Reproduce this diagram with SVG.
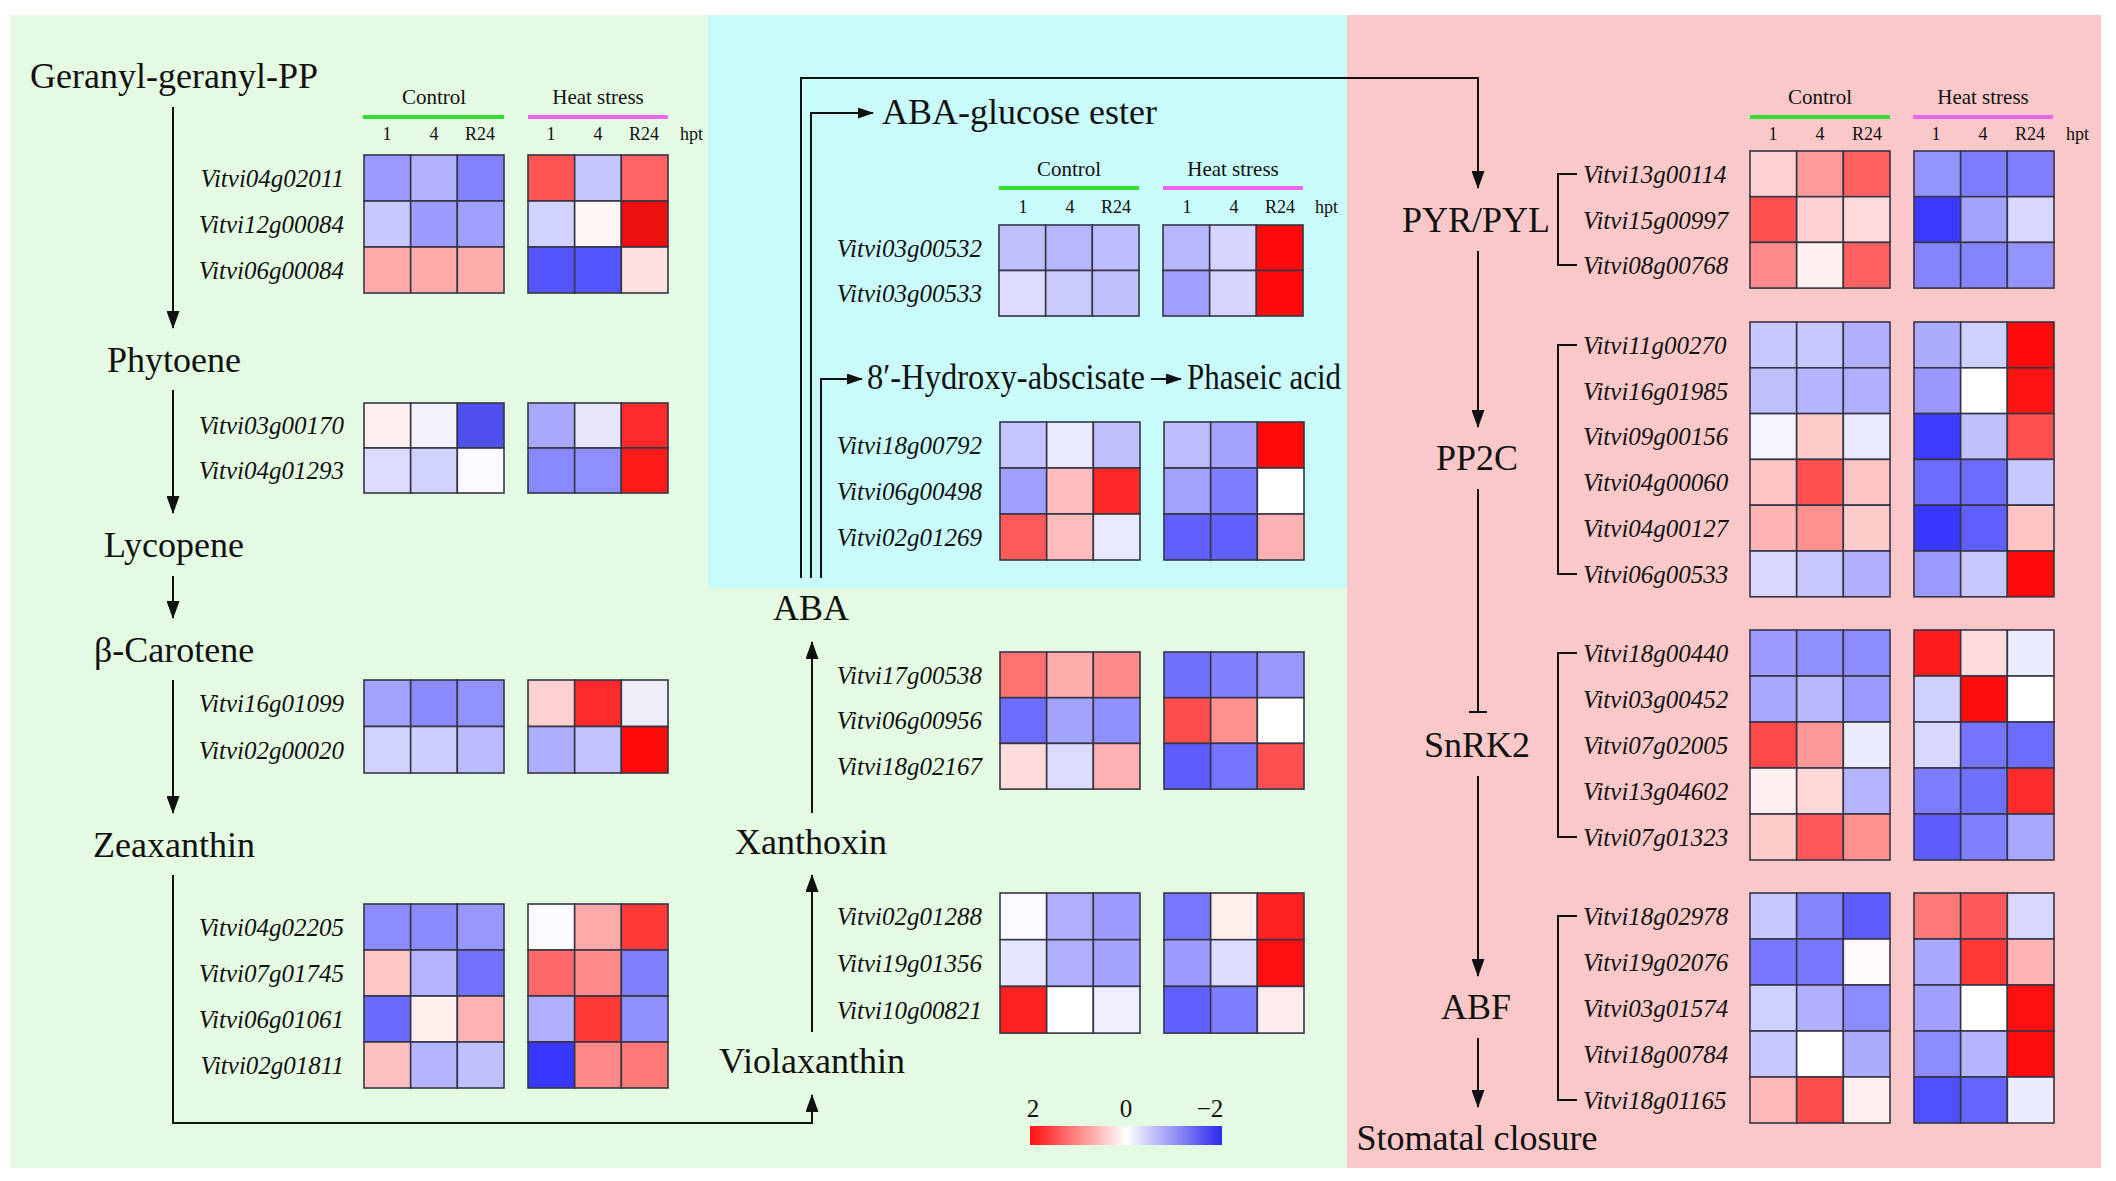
<svg xmlns="http://www.w3.org/2000/svg" width="2116" height="1181" viewBox="0 0 2116 1181">
<style>
.t{font-family:"Liberation Serif",serif;font-size:36px;fill:#111}
.g{font-family:"Liberation Serif",serif;font-style:italic;font-size:25px;fill:#111}
.h{font-family:"Liberation Serif",serif;font-size:21px;fill:#111}
.s{font-family:"Liberation Serif",serif;font-size:18px;fill:#111}
.hm rect{stroke:#353545;stroke-width:1.6}
.ln{stroke:#111;stroke-width:2;fill:none}
.gl{stroke:#33dd33;stroke-width:4}
.pl{stroke:#ee66ee;stroke-width:4}
</style>
<defs>
<marker id="ah" viewBox="0 0 18 13" markerUnits="userSpaceOnUse" markerWidth="18" markerHeight="13" refX="17" refY="6.5" orient="auto">
<path d="M0,0 L18,6.5 L0,13 z" fill="#111"/>
</marker>
<marker id="as" viewBox="0 0 16 11" markerUnits="userSpaceOnUse" markerWidth="16" markerHeight="11" refX="15" refY="5.5" orient="auto">
<path d="M0,0 L16,5.5 L0,11 z" fill="#111"/>
</marker>
<linearGradient id="cb" x1="0" y1="0" x2="1" y2="0">
<stop offset="0" stop-color="#ff1010"/>
<stop offset="0.5" stop-color="#ffffff"/>
<stop offset="1" stop-color="#2a2aee"/>
</linearGradient>
</defs>
<rect x="0" y="0" width="2116" height="1181" fill="#ffffff"/>
<g id="panels">
<rect x="10" y="15" width="2091" height="1153" fill="#e4fae2"/>
<rect x="708" y="15" width="639" height="573" fill="#c9fbfb"/>
<rect x="1347" y="15" width="754" height="1153" fill="#fac8c8"/>
</g>

<g id="connectors">
<line class="ln" x1="173" y1="107" x2="173" y2="328" marker-end="url(#ah)"/>
<line class="ln" x1="173" y1="390" x2="173" y2="513" marker-end="url(#ah)"/>
<line class="ln" x1="173" y1="576" x2="173" y2="618" marker-end="url(#ah)"/>
<line class="ln" x1="173" y1="680" x2="173" y2="813" marker-end="url(#ah)"/>
<polyline class="ln" points="173,875 173,1123 812,1123 812,1095" marker-end="url(#ah)"/>
<line class="ln" x1="812" y1="1032" x2="812" y2="875" marker-end="url(#ah)"/>
<line class="ln" x1="812" y1="813" x2="812" y2="642" marker-end="url(#ah)"/>
<polyline class="ln" points="801,578 801,78 1478,78 1478,188" marker-end="url(#ah)"/>
<polyline class="ln" points="811,578 811,113 873,113" marker-end="url(#as)"/>
<polyline class="ln" points="821,578 821,379 862,379" marker-end="url(#as)"/>
<line class="ln" x1="1151" y1="379" x2="1181" y2="379" marker-end="url(#as)"/>
<line class="ln" x1="1478" y1="251" x2="1478" y2="427" marker-end="url(#ah)"/>
<line class="ln" x1="1478" y1="489" x2="1478" y2="712"/>
<line class="ln" x1="1469" y1="712" x2="1487" y2="712"/>
<line class="ln" x1="1478" y1="776" x2="1478" y2="976" marker-end="url(#ah)"/>
<line class="ln" x1="1478" y1="1038" x2="1478" y2="1107" marker-end="url(#ah)"/>
<path class="ln" d="M1577,174 H1558 V265 H1577"/>
<path class="ln" d="M1577,345 H1558 V574 H1577"/>
<path class="ln" d="M1577,653 H1558 V837 H1577"/>
<path class="ln" d="M1577,916 H1558 V1100 H1577"/>
</g>

<g id="metabolites">
<g id="n-ggpp"><text class="t" x="174" y="88" text-anchor="middle">Geranyl-geranyl-PP</text></g>
<g id="n-phytoene"><text class="t" x="174" y="372" text-anchor="middle">Phytoene</text></g>
<g id="n-lycopene"><text class="t" x="174" y="557" text-anchor="middle">Lycopene</text></g>
<g id="n-bcarotene"><text class="t" x="174" y="662" text-anchor="middle">β-Carotene</text></g>
<g id="n-zeaxanthin"><text class="t" x="174" y="857" text-anchor="middle">Zeaxanthin</text></g>
<g id="n-violaxanthin"><text class="t" x="812" y="1073" text-anchor="middle">Violaxanthin</text></g>
<g id="n-xanthoxin"><text class="t" x="811" y="854" text-anchor="middle">Xanthoxin</text></g>
<g id="n-aba"><text class="t" x="811" y="620" text-anchor="middle">ABA</text></g>
<g id="n-abage"><text class="t" x="882" y="124">ABA-glucose ester</text></g>
<g id="n-hydroxy"><text class="t" x="867" y="389" font-size="32" textLength="278" lengthAdjust="spacingAndGlyphs">8′-Hydroxy-abscisate</text></g>
<g id="n-phaseic"><text class="t" x="1187" y="389" font-size="32" textLength="154" lengthAdjust="spacingAndGlyphs">Phaseic acid</text></g>
<g id="n-pyr"><text class="t" x="1476" y="232" text-anchor="middle">PYR/PYL</text></g>
<g id="n-pp2c"><text class="t" x="1477" y="470" text-anchor="middle">PP2C</text></g>
<g id="n-snrk2"><text class="t" x="1477" y="757" text-anchor="middle">SnRK2</text></g>
<g id="n-abf"><text class="t" x="1476" y="1019" text-anchor="middle">ABF</text></g>
<g id="n-stomatal"><text class="t" x="1477" y="1150" text-anchor="middle">Stomatal closure</text></g>
</g>

<g id="header-left">
<text class="h" x="434" y="104" text-anchor="middle">Control</text>
<text class="h" x="598" y="104" text-anchor="middle">Heat stress</text>
<line class="gl" x1="363" y1="117" x2="504" y2="117"/>
<line class="pl" x1="528" y1="117" x2="668" y2="117"/>
<g class="s" text-anchor="middle">
<text x="387" y="140">1</text><text x="434" y="140">4</text><text x="480" y="140">R24</text>
<text x="551" y="140">1</text><text x="598" y="140">4</text><text x="644" y="140">R24</text>
</g>
<text class="s" x="680" y="140">hpt</text>
</g>
<g id="header-mid">
<text class="h" x="1069" y="176" text-anchor="middle">Control</text>
<text class="h" x="1233" y="176" text-anchor="middle">Heat stress</text>
<line class="gl" x1="999" y1="188" x2="1139" y2="188"/>
<line class="pl" x1="1163" y1="188" x2="1303" y2="188"/>
<g class="s" text-anchor="middle">
<text x="1023" y="213">1</text><text x="1070" y="213">4</text><text x="1116" y="213">R24</text>
<text x="1187" y="213">1</text><text x="1234" y="213">4</text><text x="1280" y="213">R24</text>
</g>
<text class="s" x="1315" y="213">hpt</text>
</g>
<g id="header-right">
<text class="h" x="1820" y="104" text-anchor="middle">Control</text>
<text class="h" x="1983" y="104" text-anchor="middle">Heat stress</text>
<line class="gl" x1="1750" y1="117" x2="1890" y2="117"/>
<line class="pl" x1="1913" y1="117" x2="2053" y2="117"/>
<g class="s" text-anchor="middle">
<text x="1773" y="140">1</text><text x="1820" y="140">4</text><text x="1867" y="140">R24</text>
<text x="1936" y="140">1</text><text x="1983" y="140">4</text><text x="2030" y="140">R24</text>
</g>
<text class="s" x="2066" y="140">hpt</text>
</g>

<!-- Left blocks -->
<g id="hm-ggpp">
<g class="g" text-anchor="end">
<text x="344" y="187">Vitvi04g02011</text><text x="344" y="233">Vitvi12g00084</text><text x="344" y="279">Vitvi06g00084</text>
</g>
<g class="hm" transform="translate(364,155)">
<rect x="0" y="0" width="46.67" height="46" fill="#9a9aff"/><rect x="46.67" y="0" width="46.67" height="46" fill="#b2b2ff"/><rect x="93.33" y="0" width="46.67" height="46" fill="#8282ff"/>
<rect x="0" y="46" width="46.67" height="46" fill="#c8c8ff"/><rect x="46.67" y="46" width="46.67" height="46" fill="#9c9cff"/><rect x="93.33" y="46" width="46.67" height="46" fill="#a0a0ff"/>
<rect x="0" y="92" width="46.67" height="46" fill="#ffaaaa"/><rect x="46.67" y="92" width="46.67" height="46" fill="#ffaaaa"/><rect x="93.33" y="92" width="46.67" height="46" fill="#ffacac"/>
<rect x="164" y="0" width="46.67" height="46" fill="#ff5555"/><rect x="210.67" y="0" width="46.67" height="46" fill="#c6c6ff"/><rect x="257.33" y="0" width="46.67" height="46" fill="#ff6262"/>
<rect x="164" y="46" width="46.67" height="46" fill="#d2d2ff"/><rect x="210.67" y="46" width="46.67" height="46" fill="#fff5f5"/><rect x="257.33" y="46" width="46.67" height="46" fill="#ee1010"/>
<rect x="164" y="92" width="46.67" height="46" fill="#5555ff"/><rect x="210.67" y="92" width="46.67" height="46" fill="#5555ff"/><rect x="257.33" y="92" width="46.67" height="46" fill="#ffe0e0"/>
</g>
</g>
<g id="hm-phytoene">
<g class="g" text-anchor="end">
<text x="344" y="434">Vitvi03g00170</text><text x="344" y="479">Vitvi04g01293</text>
</g>
<g class="hm" transform="translate(364,403)">
<rect x="0" y="0" width="46.67" height="45" fill="#fff0f0"/><rect x="46.67" y="0" width="46.67" height="45" fill="#f2f2fa"/><rect x="93.33" y="0" width="46.67" height="45" fill="#5050ee"/>
<rect x="0" y="45" width="46.67" height="45" fill="#dcdcff"/><rect x="46.67" y="45" width="46.67" height="45" fill="#d2d2ff"/><rect x="93.33" y="45" width="46.67" height="45" fill="#fafaff"/>
<rect x="164" y="0" width="46.67" height="45" fill="#a8a8ff"/><rect x="210.67" y="0" width="46.67" height="45" fill="#e6e6f8"/><rect x="257.33" y="0" width="46.67" height="45" fill="#ff2a2a"/>
<rect x="164" y="45" width="46.67" height="45" fill="#8888ff"/><rect x="210.67" y="45" width="46.67" height="45" fill="#8e8eff"/><rect x="257.33" y="45" width="46.67" height="45" fill="#ff1a1a"/>
</g>
</g>
<g id="hm-carotene">
<g class="g" text-anchor="end">
<text x="344" y="712">Vitvi16g01099</text><text x="344" y="759">Vitvi02g00020</text>
</g>
<g class="hm" transform="translate(364,680)">
<rect x="0" y="0" width="46.67" height="46.5" fill="#a2a2ff"/><rect x="46.67" y="0" width="46.67" height="46.5" fill="#8a8aff"/><rect x="93.33" y="0" width="46.67" height="46.5" fill="#9292ff"/>
<rect x="0" y="46.5" width="46.67" height="46.5" fill="#d2d2ff"/><rect x="46.67" y="46.5" width="46.67" height="46.5" fill="#ceceff"/><rect x="93.33" y="46.5" width="46.67" height="46.5" fill="#babaff"/>
<rect x="164" y="0" width="46.67" height="46.5" fill="#ffd0d0"/><rect x="210.67" y="0" width="46.67" height="46.5" fill="#ff2a2a"/><rect x="257.33" y="0" width="46.67" height="46.5" fill="#eeeefa"/>
<rect x="164" y="46.5" width="46.67" height="46.5" fill="#aeaeff"/><rect x="210.67" y="46.5" width="46.67" height="46.5" fill="#c2c2ff"/><rect x="257.33" y="46.5" width="46.67" height="46.5" fill="#ff0808"/>
</g>
</g>
<g id="hm-zeaxanthin">
<g class="g" text-anchor="end">
<text x="344" y="936">Vitvi04g02205</text><text x="344" y="982">Vitvi07g01745</text><text x="344" y="1028">Vitvi06g01061</text><text x="344" y="1074">Vitvi02g01811</text>
</g>
<g class="hm" transform="translate(364,904)">
<rect x="0" y="0" width="46.67" height="46" fill="#8c8cff"/><rect x="46.67" y="0" width="46.67" height="46" fill="#8a8aff"/><rect x="93.33" y="0" width="46.67" height="46" fill="#9898ff"/>
<rect x="0" y="46" width="46.67" height="46" fill="#ffc8c8"/><rect x="46.67" y="46" width="46.67" height="46" fill="#b4b4ff"/><rect x="93.33" y="46" width="46.67" height="46" fill="#7272ff"/>
<rect x="0" y="92" width="46.67" height="46" fill="#6a6aff"/><rect x="46.67" y="92" width="46.67" height="46" fill="#fff0ee"/><rect x="93.33" y="92" width="46.67" height="46" fill="#ffb2b2"/>
<rect x="0" y="138" width="46.67" height="46" fill="#ffc0c0"/><rect x="46.67" y="138" width="46.67" height="46" fill="#b4b4ff"/><rect x="93.33" y="138" width="46.67" height="46" fill="#c0c0ff"/>
<rect x="164" y="0" width="46.67" height="46" fill="#fbfbff"/><rect x="210.67" y="0" width="46.67" height="46" fill="#ffaaaa"/><rect x="257.33" y="0" width="46.67" height="46" fill="#ff3838"/>
<rect x="164" y="46" width="46.67" height="46" fill="#ff6868"/><rect x="210.67" y="46" width="46.67" height="46" fill="#ff8c8c"/><rect x="257.33" y="46" width="46.67" height="46" fill="#8080ff"/>
<rect x="164" y="92" width="46.67" height="46" fill="#b0b0ff"/><rect x="210.67" y="92" width="46.67" height="46" fill="#ff3838"/><rect x="257.33" y="92" width="46.67" height="46" fill="#9090ff"/>
<rect x="164" y="138" width="46.67" height="46" fill="#3838ff"/><rect x="210.67" y="138" width="46.67" height="46" fill="#ff8888"/><rect x="257.33" y="138" width="46.67" height="46" fill="#ff7878"/>
</g>
</g>

<!-- Middle blocks -->
<g id="hm-abage">
<g class="g" text-anchor="end">
<text x="982" y="257">Vitvi03g00532</text><text x="982" y="302">Vitvi03g00533</text>
</g>
<g class="hm" transform="translate(999,225)">
<rect x="0" y="0" width="46.67" height="45.5" fill="#c0c0ff"/><rect x="46.67" y="0" width="46.67" height="45.5" fill="#b6b6ff"/><rect x="93.33" y="0" width="46.67" height="45.5" fill="#bebeff"/>
<rect x="0" y="45.5" width="46.67" height="45.5" fill="#dcdcff"/><rect x="46.67" y="45.5" width="46.67" height="45.5" fill="#cacaff"/><rect x="93.33" y="45.5" width="46.67" height="45.5" fill="#c0c0ff"/>
<rect x="164" y="0" width="46.67" height="45.5" fill="#b6b6ff"/><rect x="210.67" y="0" width="46.67" height="45.5" fill="#d4d4ff"/><rect x="257.33" y="0" width="46.67" height="45.5" fill="#ff0a0a"/>
<rect x="164" y="45.5" width="46.67" height="45.5" fill="#a0a0ff"/><rect x="210.67" y="45.5" width="46.67" height="45.5" fill="#d4d4ff"/><rect x="257.33" y="45.5" width="46.67" height="45.5" fill="#ff0a0a"/>
</g>
</g>
<g id="hm-hydroxy">
<g class="g" text-anchor="end">
<text x="982" y="454">Vitvi18g00792</text><text x="982" y="500">Vitvi06g00498</text><text x="982" y="546">Vitvi02g01269</text>
</g>
<g class="hm" transform="translate(1000,422)">
<rect x="0" y="0" width="46.67" height="46" fill="#c4c4ff"/><rect x="46.67" y="0" width="46.67" height="46" fill="#eaeaff"/><rect x="93.33" y="0" width="46.67" height="46" fill="#c0c0ff"/>
<rect x="0" y="46" width="46.67" height="46" fill="#a0a0ff"/><rect x="46.67" y="46" width="46.67" height="46" fill="#ffbcbc"/><rect x="93.33" y="46" width="46.67" height="46" fill="#ff2828"/>
<rect x="0" y="92" width="46.67" height="46" fill="#ff5a5a"/><rect x="46.67" y="92" width="46.67" height="46" fill="#ffbcbc"/><rect x="93.33" y="92" width="46.67" height="46" fill="#e8e8ff"/>
<rect x="164" y="0" width="46.67" height="46" fill="#bcbcff"/><rect x="210.67" y="0" width="46.67" height="46" fill="#a4a4ff"/><rect x="257.33" y="0" width="46.67" height="46" fill="#ff0808"/>
<rect x="164" y="46" width="46.67" height="46" fill="#a2a2ff"/><rect x="210.67" y="46" width="46.67" height="46" fill="#7e7eff"/><rect x="257.33" y="46" width="46.67" height="46" fill="#ffffff"/>
<rect x="164" y="92" width="46.67" height="46" fill="#6060ff"/><rect x="210.67" y="92" width="46.67" height="46" fill="#6060ff"/><rect x="257.33" y="92" width="46.67" height="46" fill="#ffb0b0"/>
</g>
</g>
<g id="hm-xanthoxin">
<g class="g" text-anchor="end">
<text x="982" y="684">Vitvi17g00538</text><text x="982" y="729">Vitvi06g00956</text><text x="982" y="775">Vitvi18g02167</text>
</g>
<g class="hm" transform="translate(1000,652)">
<rect x="0" y="0" width="46.67" height="45.7" fill="#ff7070"/><rect x="46.67" y="0" width="46.67" height="45.7" fill="#ffacac"/><rect x="93.33" y="0" width="46.67" height="45.7" fill="#ff8c8c"/>
<rect x="0" y="45.7" width="46.67" height="45.7" fill="#6c6cff"/><rect x="46.67" y="45.7" width="46.67" height="45.7" fill="#a4a4ff"/><rect x="93.33" y="45.7" width="46.67" height="45.7" fill="#9090ff"/>
<rect x="0" y="91.4" width="46.67" height="45.7" fill="#ffdcdc"/><rect x="46.67" y="91.4" width="46.67" height="45.7" fill="#dcdcff"/><rect x="93.33" y="91.4" width="46.67" height="45.7" fill="#ffb0b0"/>
<rect x="164" y="0" width="46.67" height="45.7" fill="#7070ff"/><rect x="210.67" y="0" width="46.67" height="45.7" fill="#8080ff"/><rect x="257.33" y="0" width="46.67" height="45.7" fill="#9898ff"/>
<rect x="164" y="45.7" width="46.67" height="45.7" fill="#ff4c4c"/><rect x="210.67" y="45.7" width="46.67" height="45.7" fill="#ff9090"/><rect x="257.33" y="45.7" width="46.67" height="45.7" fill="#ffffff"/>
<rect x="164" y="91.4" width="46.67" height="45.7" fill="#5c5cff"/><rect x="210.67" y="91.4" width="46.67" height="45.7" fill="#7474ff"/><rect x="257.33" y="91.4" width="46.67" height="45.7" fill="#ff5050"/>
</g>
</g>
<g id="hm-violaxanthin">
<g class="g" text-anchor="end">
<text x="982" y="925">Vitvi02g01288</text><text x="982" y="972">Vitvi19g01356</text><text x="982" y="1019">Vitvi10g00821</text>
</g>
<g class="hm" transform="translate(1000,893)">
<rect x="0" y="0" width="46.67" height="46.7" fill="#fafaff"/><rect x="46.67" y="0" width="46.67" height="46.7" fill="#b0b0ff"/><rect x="93.33" y="0" width="46.67" height="46.7" fill="#9c9cff"/>
<rect x="0" y="46.7" width="46.67" height="46.7" fill="#e6e6ff"/><rect x="46.67" y="46.7" width="46.67" height="46.7" fill="#b0b0ff"/><rect x="93.33" y="46.7" width="46.67" height="46.7" fill="#a4a4ff"/>
<rect x="0" y="93.4" width="46.67" height="46.7" fill="#ff2020"/><rect x="46.67" y="93.4" width="46.67" height="46.7" fill="#ffffff"/><rect x="93.33" y="93.4" width="46.67" height="46.7" fill="#eeeeff"/>
<rect x="164" y="0" width="46.67" height="46.7" fill="#7878ff"/><rect x="210.67" y="0" width="46.67" height="46.7" fill="#fff0ee"/><rect x="257.33" y="0" width="46.67" height="46.7" fill="#ff2020"/>
<rect x="164" y="46.7" width="46.67" height="46.7" fill="#9c9cff"/><rect x="210.67" y="46.7" width="46.67" height="46.7" fill="#dcdcff"/><rect x="257.33" y="46.7" width="46.67" height="46.7" fill="#ff1010"/>
<rect x="164" y="93.4" width="46.67" height="46.7" fill="#6060ff"/><rect x="210.67" y="93.4" width="46.67" height="46.7" fill="#7c7cff"/><rect x="257.33" y="93.4" width="46.67" height="46.7" fill="#ffecec"/>
</g>
</g>

<!-- Right blocks -->
<g id="hm-pyr">
<g class="g">
<text x="1583" y="183">Vitvi13g00114</text><text x="1583" y="229">Vitvi15g00997</text><text x="1583" y="274">Vitvi08g00768</text>
</g>
<g class="hm" transform="translate(1750,151)">
<rect x="0" y="0" width="46.67" height="45.7" fill="#ffd2d2"/><rect x="46.67" y="0" width="46.67" height="45.7" fill="#ff9a9a"/><rect x="93.33" y="0" width="46.67" height="45.7" fill="#ff6060"/>
<rect x="0" y="45.7" width="46.67" height="45.7" fill="#ff5050"/><rect x="46.67" y="45.7" width="46.67" height="45.7" fill="#ffd2d2"/><rect x="93.33" y="45.7" width="46.67" height="45.7" fill="#ffdada"/>
<rect x="0" y="91.4" width="46.67" height="45.7" fill="#ff8c8c"/><rect x="46.67" y="91.4" width="46.67" height="45.7" fill="#fff0f0"/><rect x="93.33" y="91.4" width="46.67" height="45.7" fill="#ff6060"/>
<rect x="164" y="0" width="46.67" height="45.7" fill="#9494ff"/><rect x="210.67" y="0" width="46.67" height="45.7" fill="#7c7cff"/><rect x="257.33" y="0" width="46.67" height="45.7" fill="#8080ff"/>
<rect x="164" y="45.7" width="46.67" height="45.7" fill="#3a3aff"/><rect x="210.67" y="45.7" width="46.67" height="45.7" fill="#a4a4ff"/><rect x="257.33" y="45.7" width="46.67" height="45.7" fill="#d8d8ff"/>
<rect x="164" y="91.4" width="46.67" height="45.7" fill="#8484ff"/><rect x="210.67" y="91.4" width="46.67" height="45.7" fill="#8484ff"/><rect x="257.33" y="91.4" width="46.67" height="45.7" fill="#9494ff"/>
</g>
</g>
<g id="hm-pp2c">
<g class="g">
<text x="1583" y="354">Vitvi11g00270</text><text x="1583" y="400">Vitvi16g01985</text><text x="1583" y="445">Vitvi09g00156</text><text x="1583" y="491">Vitvi04g00060</text><text x="1583" y="537">Vitvi04g00127</text><text x="1583" y="583">Vitvi06g00533</text>
</g>
<g class="hm" transform="translate(1750,322)">
<rect x="0" y="0" width="46.67" height="45.8" fill="#c8c8ff"/><rect x="46.67" y="0" width="46.67" height="45.8" fill="#c8c8ff"/><rect x="93.33" y="0" width="46.67" height="45.8" fill="#b0b0ff"/>
<rect x="0" y="45.8" width="46.67" height="45.8" fill="#c0c0ff"/><rect x="46.67" y="45.8" width="46.67" height="45.8" fill="#b4b4ff"/><rect x="93.33" y="45.8" width="46.67" height="45.8" fill="#b0b0ff"/>
<rect x="0" y="91.6" width="46.67" height="45.8" fill="#f4f4ff"/><rect x="46.67" y="91.6" width="46.67" height="45.8" fill="#ffcccc"/><rect x="93.33" y="91.6" width="46.67" height="45.8" fill="#e8e8ff"/>
<rect x="0" y="137.4" width="46.67" height="45.8" fill="#ffc4c4"/><rect x="46.67" y="137.4" width="46.67" height="45.8" fill="#ff5050"/><rect x="93.33" y="137.4" width="46.67" height="45.8" fill="#ffc4c4"/>
<rect x="0" y="183.2" width="46.67" height="45.8" fill="#ffb4b4"/><rect x="46.67" y="183.2" width="46.67" height="45.8" fill="#ff9090"/><rect x="93.33" y="183.2" width="46.67" height="45.8" fill="#ffcccc"/>
<rect x="0" y="229" width="46.67" height="45.8" fill="#d8d8ff"/><rect x="46.67" y="229" width="46.67" height="45.8" fill="#c8c8ff"/><rect x="93.33" y="229" width="46.67" height="45.8" fill="#b0b0ff"/>
<rect x="164" y="0" width="46.67" height="45.8" fill="#acacff"/><rect x="210.67" y="0" width="46.67" height="45.8" fill="#d0d0ff"/><rect x="257.33" y="0" width="46.67" height="45.8" fill="#ff0a0a"/>
<rect x="164" y="45.8" width="46.67" height="45.8" fill="#9898ff"/><rect x="210.67" y="45.8" width="46.67" height="45.8" fill="#ffffff"/><rect x="257.33" y="45.8" width="46.67" height="45.8" fill="#ff1414"/>
<rect x="164" y="91.6" width="46.67" height="45.8" fill="#3c3cff"/><rect x="210.67" y="91.6" width="46.67" height="45.8" fill="#c0c0ff"/><rect x="257.33" y="91.6" width="46.67" height="45.8" fill="#ff5050"/>
<rect x="164" y="137.4" width="46.67" height="45.8" fill="#6c6cff"/><rect x="210.67" y="137.4" width="46.67" height="45.8" fill="#6c6cff"/><rect x="257.33" y="137.4" width="46.67" height="45.8" fill="#c8c8ff"/>
<rect x="164" y="183.2" width="46.67" height="45.8" fill="#3838ff"/><rect x="210.67" y="183.2" width="46.67" height="45.8" fill="#6060ff"/><rect x="257.33" y="183.2" width="46.67" height="45.8" fill="#ffc4c4"/>
<rect x="164" y="229" width="46.67" height="45.8" fill="#9a9aff"/><rect x="210.67" y="229" width="46.67" height="45.8" fill="#c8c8ff"/><rect x="257.33" y="229" width="46.67" height="45.8" fill="#ff0a0a"/>
</g>
</g>
<g id="hm-snrk2">
<g class="g">
<text x="1583" y="662">Vitvi18g00440</text><text x="1583" y="708">Vitvi03g00452</text><text x="1583" y="754">Vitvi07g02005</text><text x="1583" y="800">Vitvi13g04602</text><text x="1583" y="846">Vitvi07g01323</text>
</g>
<g class="hm" transform="translate(1750,630)">
<rect x="0" y="0" width="46.67" height="46" fill="#9c9cff"/><rect x="46.67" y="0" width="46.67" height="46" fill="#9090ff"/><rect x="93.33" y="0" width="46.67" height="46" fill="#8c8cff"/>
<rect x="0" y="46" width="46.67" height="46" fill="#a8a8ff"/><rect x="46.67" y="46" width="46.67" height="46" fill="#b8b8ff"/><rect x="93.33" y="46" width="46.67" height="46" fill="#9c9cff"/>
<rect x="0" y="92" width="46.67" height="46" fill="#ff4848"/><rect x="46.67" y="92" width="46.67" height="46" fill="#ff9898"/><rect x="93.33" y="92" width="46.67" height="46" fill="#ececff"/>
<rect x="0" y="138" width="46.67" height="46" fill="#fff0f0"/><rect x="46.67" y="138" width="46.67" height="46" fill="#ffd8d8"/><rect x="93.33" y="138" width="46.67" height="46" fill="#b4b4ff"/>
<rect x="0" y="184" width="46.67" height="46" fill="#ffcccc"/><rect x="46.67" y="184" width="46.67" height="46" fill="#ff5858"/><rect x="93.33" y="184" width="46.67" height="46" fill="#ff9090"/>
<rect x="164" y="0" width="46.67" height="46" fill="#ff1c1c"/><rect x="210.67" y="0" width="46.67" height="46" fill="#ffdcdc"/><rect x="257.33" y="0" width="46.67" height="46" fill="#ececff"/>
<rect x="164" y="46" width="46.67" height="46" fill="#d0d0ff"/><rect x="210.67" y="46" width="46.67" height="46" fill="#ff0c0c"/><rect x="257.33" y="46" width="46.67" height="46" fill="#ffffff"/>
<rect x="164" y="92" width="46.67" height="46" fill="#d8d8ff"/><rect x="210.67" y="92" width="46.67" height="46" fill="#7474ff"/><rect x="257.33" y="92" width="46.67" height="46" fill="#6c6cff"/>
<rect x="164" y="138" width="46.67" height="46" fill="#7c7cff"/><rect x="210.67" y="138" width="46.67" height="46" fill="#7070ff"/><rect x="257.33" y="138" width="46.67" height="46" fill="#ff2c2c"/>
<rect x="164" y="184" width="46.67" height="46" fill="#5c5cff"/><rect x="210.67" y="184" width="46.67" height="46" fill="#8080ff"/><rect x="257.33" y="184" width="46.67" height="46" fill="#a8a8ff"/>
</g>
</g>
<g id="hm-abf">
<g class="g">
<text x="1583" y="925">Vitvi18g02978</text><text x="1583" y="971">Vitvi19g02076</text><text x="1583" y="1017">Vitvi03g01574</text><text x="1583" y="1063">Vitvi18g00784</text><text x="1583" y="1109">Vitvi18g01165</text>
</g>
<g class="hm" transform="translate(1750,893)">
<rect x="0" y="0" width="46.67" height="46" fill="#c8c8ff"/><rect x="46.67" y="0" width="46.67" height="46" fill="#8484ff"/><rect x="93.33" y="0" width="46.67" height="46" fill="#5c5cff"/>
<rect x="0" y="46" width="46.67" height="46" fill="#7878ff"/><rect x="46.67" y="46" width="46.67" height="46" fill="#7878ff"/><rect x="93.33" y="46" width="46.67" height="46" fill="#fff8f8"/>
<rect x="0" y="92" width="46.67" height="46" fill="#d0d0ff"/><rect x="46.67" y="92" width="46.67" height="46" fill="#b0b0ff"/><rect x="93.33" y="92" width="46.67" height="46" fill="#8c8cff"/>
<rect x="0" y="138" width="46.67" height="46" fill="#c8c8ff"/><rect x="46.67" y="138" width="46.67" height="46" fill="#ffffff"/><rect x="93.33" y="138" width="46.67" height="46" fill="#acacff"/>
<rect x="0" y="184" width="46.67" height="46" fill="#ffb8b8"/><rect x="46.67" y="184" width="46.67" height="46" fill="#ff4c4c"/><rect x="93.33" y="184" width="46.67" height="46" fill="#ffeeee"/>
<rect x="164" y="0" width="46.67" height="46" fill="#ff7878"/><rect x="210.67" y="0" width="46.67" height="46" fill="#ff5858"/><rect x="257.33" y="0" width="46.67" height="46" fill="#d8d8ff"/>
<rect x="164" y="46" width="46.67" height="46" fill="#a8a8ff"/><rect x="210.67" y="46" width="46.67" height="46" fill="#ff3838"/><rect x="257.33" y="46" width="46.67" height="46" fill="#ffb4b4"/>
<rect x="164" y="92" width="46.67" height="46" fill="#a0a0ff"/><rect x="210.67" y="92" width="46.67" height="46" fill="#ffffff"/><rect x="257.33" y="92" width="46.67" height="46" fill="#ff1010"/>
<rect x="164" y="138" width="46.67" height="46" fill="#8c8cff"/><rect x="210.67" y="138" width="46.67" height="46" fill="#b4b4ff"/><rect x="257.33" y="138" width="46.67" height="46" fill="#ff0c0c"/>
<rect x="164" y="184" width="46.67" height="46" fill="#5050ff"/><rect x="210.67" y="184" width="46.67" height="46" fill="#6464ff"/><rect x="257.33" y="184" width="46.67" height="46" fill="#ececff"/>
</g>
</g>

<g id="legend">
<rect x="1030" y="1126" width="192" height="19" fill="url(#cb)"/>
<g font-family="Liberation Serif, serif" font-size="25" fill="#111" text-anchor="middle">
<text x="1033" y="1117">2</text><text x="1126" y="1117">0</text><text x="1210" y="1117">−2</text>
</g>
</g>
</svg>
